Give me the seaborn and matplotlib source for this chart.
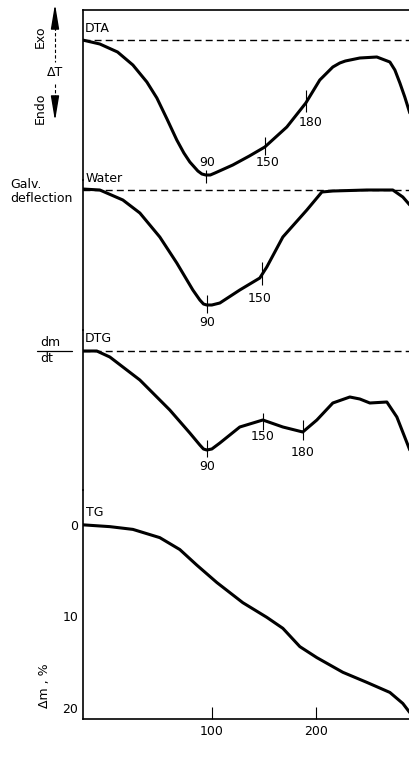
import numpy as np
import matplotlib
matplotlib.use("Agg")
import matplotlib.pyplot as plt
from matplotlib.lines import Line2D
from matplotlib.patches import FancyArrowPatch
import seaborn as sns

sns.set_style("ticks")
plt.rcParams['font.family'] = ['DejaVu Sans']
plt.rcParams['text.color'] = 'k'
plt.rcParams['axes.labelcolor'] = 'k'
plt.rcParams['xtick.color'] = 'k'
plt.rcParams['ytick.color'] = 'k'
plt.rcParams['axes.edgecolor'] = 'k'

# --- data (x = temperature scale of the bottom axis) ---
dta_t = [-24, -7.4, 9.6, 24.3, 37.7, 47.3, 57, 66.4, 73.2, 78.9, 86.6, 90.5, 94.2, 98.5,
         103, 120.1, 136, 150.8, 171.9, 190.1, 203.5, 216.0, 222.7, 228, 241.9, 258.2,
         270.7, 275.5, 280.3, 285, 289.8]
dta_v = [0.0, -0.4, -1.2, -2.5, -4.2, -5.8, -7.9, -10.0, -11.3, -12.2, -13.1, -13.4,
         -13.5, -13.5, -13.3, -12.5, -11.6, -10.7, -8.7, -6.3, -4.0, -2.7, -2.3, -2.1,
         -1.8, -1.7, -2.2, -3.0, -4.3, -5.7, -7.3]

water_t = [-24, -7.4, 14.7, 31.0, 50.1, 66.4, 81.8, 88.5, 92, 95.2, 100, 107.7, 126.8,
           146.0, 152.7, 168.1, 191.1, 205.5, 216.0, 248.6, 273.5, 283.1, 289.8]
water_v = [0.1, 0.0, -1.0, -2.3, -4.7, -7.3, -10.0, -11.0, -11.4, -11.5, -11.5, -11.3,
           -10.0, -8.8, -7.7, -4.7, -2.0, -0.2, -0.1, 0.0, 0.0, -0.7, -1.5]

dtg_t = [-24, -10.3, 2.2, 31.0, 59.7, 78.9, 88.5, 92, 95.2, 100, 107.7, 126.8, 148.9,
         168.1, 187.2, 200.7, 216.0, 232.3, 241.9, 251.5, 267.8, 277.4, 289.8]
dtg_v = [0.0, 0.0, -0.6, -2.9, -5.9, -8.2, -9.4, -9.8, -9.9, -9.8, -9.2, -7.6, -6.9,
         -7.6, -8.1, -6.9, -5.2, -4.6, -4.8, -5.2, -5.1, -6.6, -9.9]

tg_t = [-24, 2.2, 24.3, 50.1, 69.3, 85.6, 104.8, 129.7, 152.7, 168.1, 184.4, 200.7,
        225.6, 248.6, 270.7, 283.1, 289.8]
tg_m = [0.0, 0.2, 0.5, 1.4, 2.7, 4.4, 6.3, 8.5, 10.1, 11.3, 13.3, 14.5,
        16.1, 17.2, 18.3, 19.5, 20.5]

# sample temperature marks on the curves: (label, x, tick from, tick to, label x, label y)
dta_marks = [("90", 94.2, -13.0, -14.3, 95.2, -12.2),
             ("150", 150.8, -9.7, -11.5, 153.7, -12.2),
             ("180", 190.1, -5.0, -7.2, 194.9, -8.3)]
water_marks = [("90", 95.2, -10.5, -12.3, 95.2, -13.3),
               ("150", 148.0, -7.2, -9.5, 146.0, -10.8)]
dtg_marks = [("90", 95.2, -8.9, -10.6, 95.2, -11.6),
             ("150", 148.9, -6.2, -7.9, 148.9, -8.6),
             ("180", 187.2, -6.9, -8.9, 187.2, -10.2)]

W, H = 410, 765
fig = plt.figure(figsize=(W / 100, H / 100), dpi=100)
FS = 9

def fy(y):
    return 1 - y / H

def fx(x):
    return x / W

left, right = 82.5, 410
# panels in pixel rows (top, bottom) and y limits
panels = [(10, 180, (-14, 3)),
          (180, 330, (-14, 1)),
          (330, 490, (-13.9, 2.1)),
          (490, 719, (21.2, -3.8))]
axes = []
for top, bot, yl in panels:
    ax = fig.add_axes([fx(left), fy(bot), fx(right - left), (bot - top) / H])
    ax.set_xlim(-24, 290)
    ax.set_ylim(*yl)
    for s in ["top", "right", "bottom"]:
        ax.spines[s].set_visible(False)
    ax.spines["left"].set_linewidth(1.2)
    ax.set_xticks([])
    ax.set_yticks([])
    ax.patch.set_alpha(0)
    axes.append(ax)

ax_dta, ax_w, ax_dtg, ax_tg = axes
ax_dta.spines["top"].set_visible(True)
ax_dta.spines["top"].set_linewidth(1.2)
ax_tg.spines["bottom"].set_visible(True)
ax_tg.spines["bottom"].set_linewidth(1.2)

curves = [(ax_dta, dta_t, dta_v, "DTA", dta_marks),
          (ax_w, water_t, water_v, "Water", water_marks),
          (ax_dtg, dtg_t, dtg_v, "DTG", dtg_marks)]
for ax, t, v, name, marks in curves:
    ax.axhline(0, color="k", lw=1, dashes=(5, 3))
    sns.lineplot(x=t, y=v, ax=ax, color="k", lw=2.2, sort=False)
    ax.text(-21.5, 1.2, name, fontsize=FS, ha="left", va="center")
    for lab, x, y1, y2, lx, ly in marks:
        ax.vlines(x, y2, y1, color="k", lw=0.8, clip_on=False)
        ax.text(lx, ly, lab, fontsize=FS, ha="center", va="center", clip_on=False)

sns.lineplot(x=tg_t, y=tg_m, ax=ax_tg, color="k", lw=2.2, sort=False)
ax_tg.text(-21, -1.3, "TG", fontsize=FS, ha="left", va="center")
ax_tg.set_yticks([0, 10, 20])
ax_tg.set_yticklabels(["0", "10", "20"], fontsize=FS)
ax_tg.set_yticks([10], minor=True)
ax_tg.tick_params(axis="y", which="major", length=0, pad=3)
ax_tg.tick_params(axis="y", which="minor", direction="in", length=11, width=1)
ax_tg.set_xticks([100, 200])
ax_tg.set_xticklabels(["100", "200"], fontsize=FS)
ax_tg.tick_params(axis="x", direction="in", length=9, width=0.8, pad=4)
ax_tg.set_xlabel("Temperature , °C", fontsize=FS, labelpad=4)

# left side labels
fig.text(fx(40), fy(37), "Exo", rotation=90, fontsize=FS, ha="center", va="center")
fig.text(fx(40), fy(108), "Endo", rotation=90, fontsize=FS, ha="center", va="center")
fig.text(fx(55), fy(73), "ΔT", fontsize=FS, ha="center", va="center")
arrow_kw = dict(arrowstyle="-|>,head_length=1.5,head_width=0.25", color="k", lw=1,
                shrinkA=0, shrinkB=0, mutation_scale=10, transform=fig.transFigure)
fig.add_artist(FancyArrowPatch((fx(55), fy(27)), (fx(55), fy(4)), **arrow_kw))
fig.add_artist(FancyArrowPatch((fx(55), fy(98)), (fx(55), fy(121)), **arrow_kw))
fig.add_artist(Line2D([fx(55), fx(55)], [fy(27), fy(62)], color="k", lw=0.8,
                      dashes=(3, 2), transform=fig.transFigure))
fig.add_artist(Line2D([fx(55), fx(55)], [fy(84), fy(98)], color="k", lw=0.8,
                      dashes=(3, 2), transform=fig.transFigure))

fig.text(fx(10), fy(185), "Galv.", fontsize=FS, ha="left", va="center")
fig.text(fx(10), fy(198), "deflection", fontsize=FS, ha="left", va="center")

fig.text(fx(50), fy(342), "dm", fontsize=FS, ha="center", va="center")
fig.text(fx(47), fy(359), "dt", fontsize=FS, ha="center", va="center")
fig.add_artist(Line2D([fx(37), fx(72)], [fy(351), fy(351)], color="k", lw=0.9,
                      transform=fig.transFigure))

fig.text(fx(45), fy(686), "Δm , %", rotation=90, fontsize=FS, ha="center", va="center")

fig.savefig("out.png", dpi=100)
